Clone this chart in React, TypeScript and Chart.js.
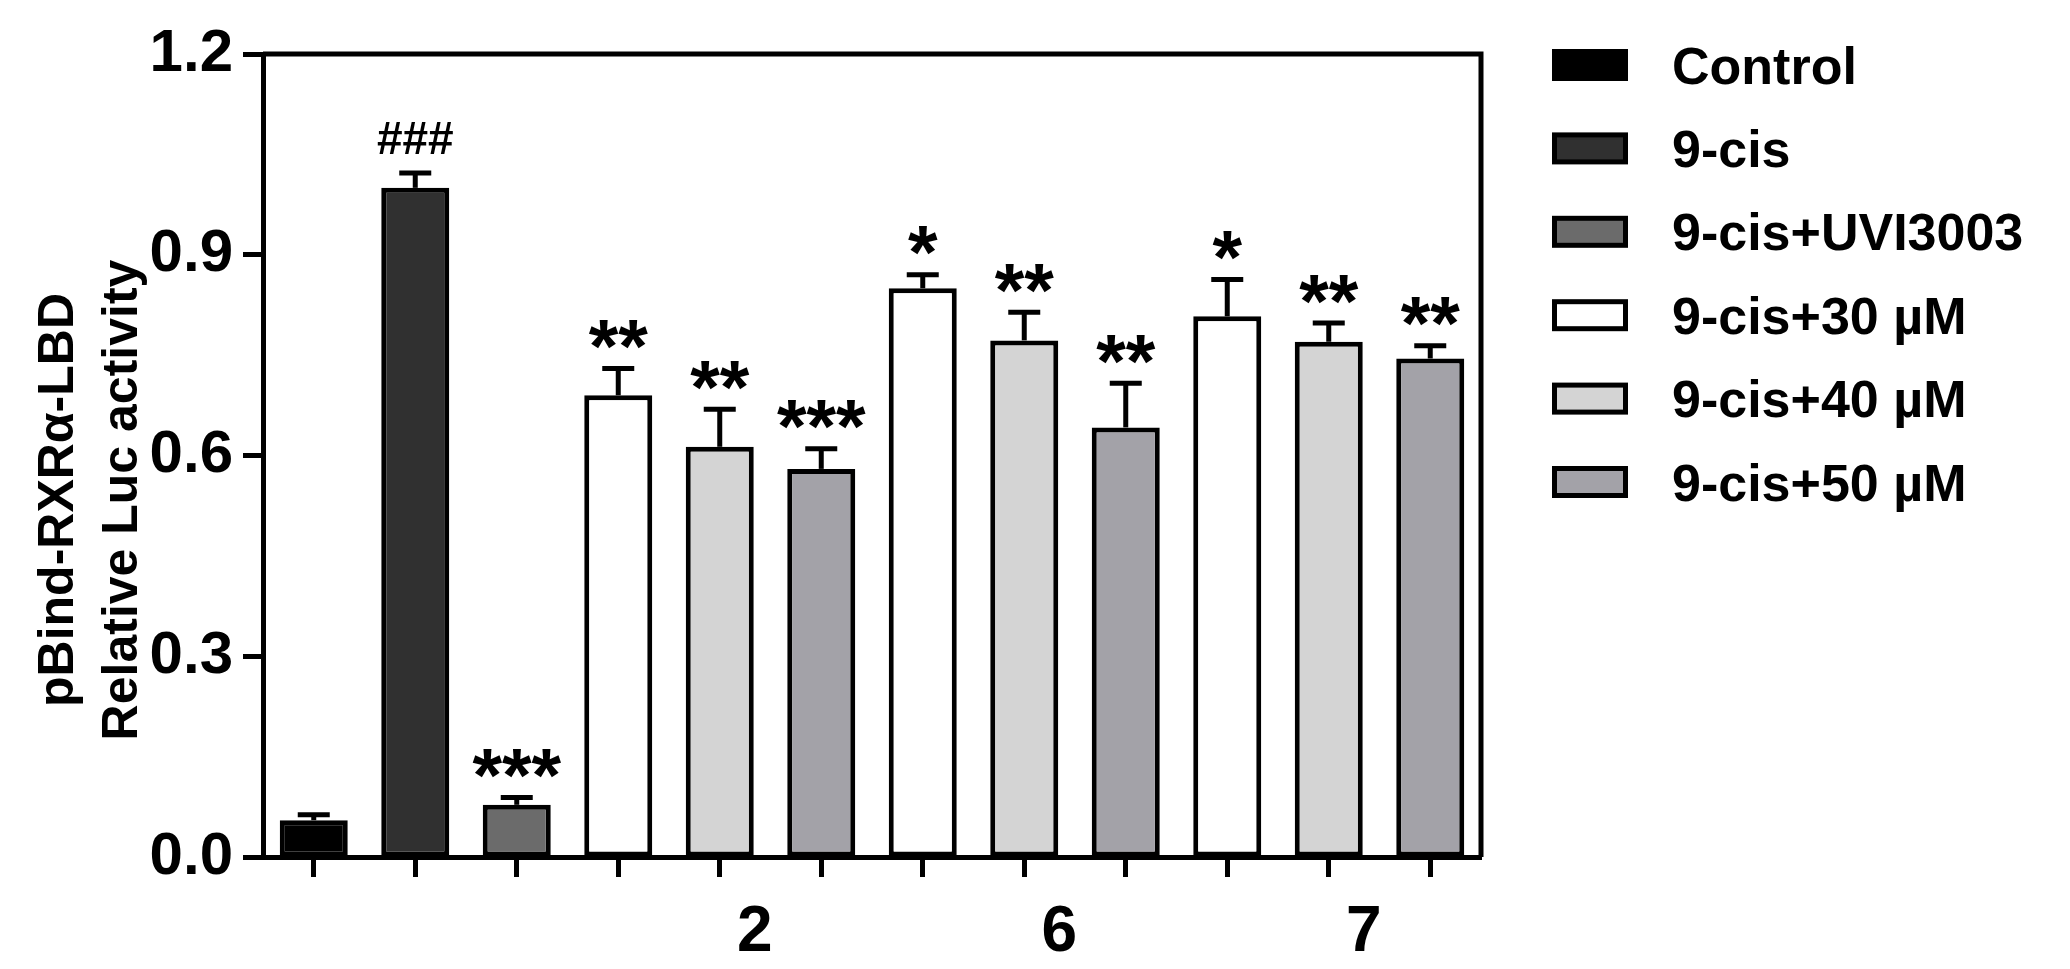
import React, { useEffect, useRef } from "react";
import { Chart, registerables } from "chart.js";

Chart.register(...registerables);

// ---- data ----
const categories = ["", "", "", "", "2", "", "", "6", "", "", "7", ""];
const seriesNames = ["Control", "9-cis", "9-cis+UVI3003", "9-cis+30 µM", "9-cis+40 µM", "9-cis+50 µM"];
const seriesColors = ["#000000", "#303030", "#6b6b6b", "#ffffff", "#d4d4d4", "#a3a2a8"];
const barSeries = [0, 1, 2, 3, 4, 5, 3, 4, 5, 3, 4, 5];
const barValues = [0.055, 1.0, 0.078, 0.69, 0.613, 0.58, 0.85, 0.772, 0.642, 0.808, 0.77, 0.745];
const barErrors = [0.008, 0.022, 0.011, 0.04, 0.056, 0.03, 0.02, 0.042, 0.066, 0.055, 0.028, 0.019];
const barMarks = ["", "###", "***", "**", "**", "***", "*", "**", "**", "*", "**", "**"];
const yTicks = [0, 0.3, 0.6, 0.9, 1.2];
const yTitleLines = ["pBind-RXRα-LBD", "Relative Luc activity"];

const FONT = "'Liberation Sans', Arial, Helvetica, sans-serif";
const W = 2054;
const H = 953;

const decorPlugin = {
  id: "decor",
  afterDatasetsDraw(chart: any) {
    const ctx = chart.ctx;
    const yScale = chart.scales.y;
    const area = chart.chartArea;
    ctx.save();
    // error bars + significance marks
    barValues.forEach((v, j) => {
      const meta = chart.getDatasetMeta(barSeries[j]);
      const el = meta.data[j];
      if (!el) return;
      const x = el.x;
      const yBar = yScale.getPixelForValue(v);
      const yTop = yScale.getPixelForValue(v + barErrors[j]);
      ctx.strokeStyle = "#000";
      ctx.lineWidth = 5;
      ctx.beginPath();
      ctx.moveTo(x, yBar);
      ctx.lineTo(x, yTop);
      ctx.stroke();
      ctx.beginPath();
      ctx.moveTo(x - 16, yTop);
      ctx.lineTo(x + 16, yTop);
      ctx.stroke();
      const mark = barMarks[j];
      if (mark) {
        const isHash = mark.startsWith("#");
        ctx.font = isHash ? `bold 46px ${FONT}` : `bold 76px ${FONT}`;
        ctx.fillStyle = "#000";
        ctx.textAlign = "center";
        ctx.textBaseline = "alphabetic";
        const m = ctx.measureText(mark);
        const gap = 17;
        const baseline = yTop - 2.5 - gap - m.actualBoundingBoxDescent;
        ctx.fillText(mark, x, baseline);
      }
    });
    // frame: top and right
    ctx.strokeStyle = "#000";
    ctx.lineWidth = 5;
    ctx.beginPath();
    ctx.moveTo(area.left, area.top);
    ctx.lineTo(area.right, area.top);
    ctx.lineTo(area.right, area.bottom);
    ctx.stroke();
    ctx.restore();
  },
  afterDraw(chart: any) {
    const ctx = chart.ctx;
    ctx.save();
    // y axis title (two lines, rotated)
    const tf = 50;
    ctx.font = `bold ${tf}px ${FONT}`;
    ctx.fillStyle = "#000";
    ctx.textAlign = "center";
    ctx.textBaseline = "alphabetic";
    const capCenters = [47, 111];
    yTitleLines.forEach((line, i) => {
      ctx.save();
      ctx.translate(capCenters[i] + 0.358 * tf, 492);
      ctx.rotate(-Math.PI / 2);
      ctx.fillText(line, 0, 0);
      ctx.restore();
    });
    // legend
    const lf = 52;
    ctx.font = `bold ${lf}px ${FONT}`;
    ctx.textAlign = "left";
    seriesNames.forEach((name, i) => {
      const cy = 57 + i * 83.4;
      const bx = 1544;
      const bw = 76;
      const bh = 32;
      ctx.fillStyle = "#000";
      ctx.fillRect(bx, cy - bh / 2, bw, bh);
      ctx.fillStyle = seriesColors[i];
      ctx.fillRect(bx + 5, cy - bh / 2 + 5, bw - 10, bh - 10);
      ctx.fillStyle = "#000";
      ctx.fillText(name, 1664, cy + 0.358 * lf);
    });
    ctx.restore();
  },
};

export default function App() {
  const ref = useRef<HTMLCanvasElement | null>(null);
  useEffect(() => {
    if (!ref.current) return;
    const datasets = seriesNames.map((name, i) => ({
      label: name,
      data: barValues.map((v, j) => (barSeries[j] === i ? v : null)),
      backgroundColor: seriesColors[i],
      borderColor: "#000",
      borderWidth: 5,
      borderSkipped: false,
      barPercentage: 0.67,
      categoryPercentage: 1,
      skipNull: true,
    }));
    const chart = new Chart(ref.current, {
      type: "bar",
      data: { labels: categories, datasets },
      options: {
        animation: false,
        responsive: false,
        devicePixelRatio: 1,
        layout: { padding: { top: 38, right: 581, left: 0, bottom: 0 } },
        plugins: {
          legend: { display: false },
          tooltip: { enabled: false },
        },
        scales: {
          x: {
            grid: {
              display: true,
              offset: false,
              drawOnChartArea: false,
              drawTicks: true,
              tickLength: 20,
              tickWidth: 5,
              tickColor: "#000",
              color: "#000",
            },
            border: { display: true, color: "#000", width: 5 },
            ticks: {
              color: "#000",
              font: { family: FONT, size: 64, weight: "bold" },
              padding: 18,
              labelOffset: 35,
              maxRotation: 0,
              autoSkip: false,
            },
            afterFit: (s: any) => {
              s.height = 104;
            },
          },
          y: {
            min: 0,
            max: 1.2,
            afterBuildTicks: (s: any) => {
              s.ticks = yTicks.map((v) => ({ value: v }));
            },
            grid: {
              display: true,
              drawOnChartArea: false,
              drawTicks: true,
              tickLength: 20,
              tickWidth: 5,
              tickColor: "#000",
              color: "#000",
            },
            border: { display: true, color: "#000", width: 5 },
            ticks: {
              color: "#000",
              font: { family: FONT, size: 60, weight: "bold" },
              padding: 10,
              callback: (v: any) => Number(v).toFixed(1),
            },
            afterFit: (s: any) => {
              s.width = 255;
            },
          },
        },
      },
      plugins: [decorPlugin],
    });
    return () => chart.destroy();
  }, []);
  return (
    <canvas
      ref={ref}
      width={W}
      height={H}
      style={{ display: "block", width: W + "px", height: H + "px" }}
    />
  );
}
